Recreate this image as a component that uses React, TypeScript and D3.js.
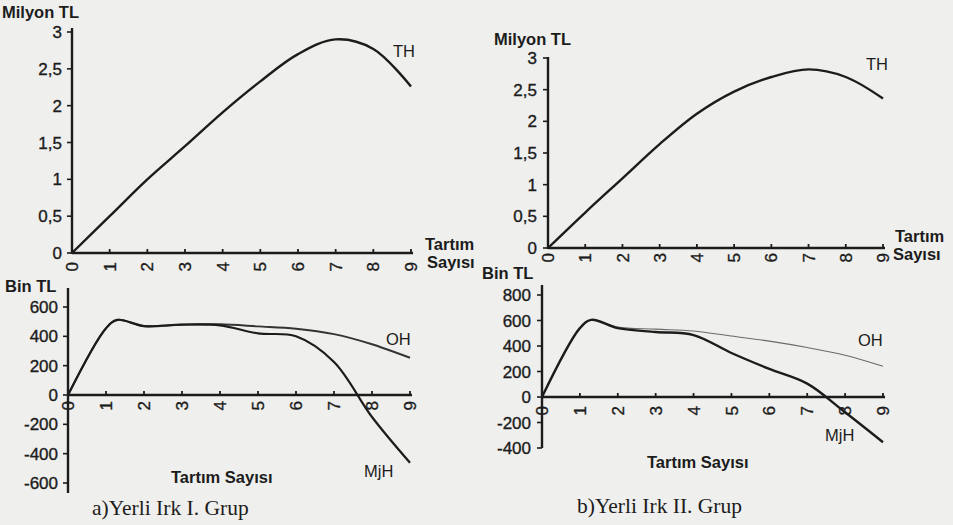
import React from 'react';
import * as d3 from 'd3';

const width = 953;
const height = 525;

// x values (Tartım Sayısı)
const xTicks = [0, 1, 2, 3, 4, 5, 6, 7, 8, 9];
const xLower = [0, 1, 1.3, 2, 3, 4, 5, 6, 7, 8, 9];

// TH, Milyon TL
const thA = [0, 0.5, 1.0, 1.45, 1.91, 2.33, 2.7, 2.9, 2.77, 2.26];
const thB = [0, 0.56, 1.1, 1.64, 2.12, 2.47, 2.7, 2.82, 2.7, 2.36];

// OH / MjH, Bin TL
const ohA = [0, 455, 512, 470, 480, 482, 468, 452, 415, 346, 254];
const mjhA = [0, 455, 512, 470, 480, 475, 420, 400, 225, -150, -462];
const ohB = [0, 540, 605, 548, 532, 518, 478, 438, 388, 328, 241];
const mjhB = [0, 540, 605, 540, 510, 486, 345, 220, 105, -120, -355];

const topTicks = [0, 0.5, 1, 1.5, 2, 2.5, 3];
const lowTicksA = [-600, -400, -200, 0, 200, 400, 600];
const lowTicksB = [-400, -200, 0, 200, 400, 600, 800];

const ink = '#1c1c1c';
const sans = '"Liberation Sans", Arial, sans-serif';
const serif = '"Liberation Serif", "Times New Roman", serif';
const fmt = (v) => String(v).replace('.', ',');

const Panel = ({ xr, yd, yr, yTicks, axisTop, axisBottom, labelRight, xLabelY, series }) => {
  const x = d3.scaleLinear().domain([0, 9]).range(xr);
  const y = d3.scaleLinear().domain(yd).range(yr);
  const y0 = y(0);
  const tickText = { fontSize: 17, fontFamily: sans, fill: ink, stroke: ink, strokeWidth: 0.35 };
  return (
    <g>
      {/* y axis */}
      <line x1={xr[0]} x2={xr[0]} y1={axisTop} y2={axisBottom} stroke={ink} strokeWidth={2.4} />
      {yTicks.map((t) => (
        <g key={t}>
          <line x1={xr[0] - 5} x2={xr[0]} y1={y(t)} y2={y(t)} stroke={ink} strokeWidth={1.6} />
          <text x={labelRight} y={y(t)} dy="0.36em" textAnchor="end" {...tickText}>
            {fmt(t)}
          </text>
        </g>
      ))}
      {/* x axis */}
      <line x1={xr[0]} x2={xr[1] + 2} y1={y0} y2={y0} stroke={ink} strokeWidth={2.4} />
      {xTicks.map((t) => (
        <g key={t}>
          <line x1={x(t)} x2={x(t)} y1={y0 - 4} y2={y0 + 1} stroke={ink} strokeWidth={1.8} />
          <text
            transform={`translate(${x(t)},${xLabelY}) rotate(-90)`}
            dy="0.36em"
            textAnchor="end"
            {...tickText}
          >
            {t}
          </text>
        </g>
      ))}
      {series.map((s, i) => {
        const line = d3
          .line()
          .x((d) => x(d[0]))
          .y((d) => y(d[1]))
          .curve(d3.curveCatmullRom.alpha(0.5));
        return (
          <path
            key={i}
            d={line(s.xs.map((v, j) => [v, s.ys[j]]))}
            fill="none"
            stroke={s.color || ink}
            strokeWidth={s.w || 2}
            strokeLinejoin="round"
          />
        );
      })}
    </g>
  );
};

export default function App() {
  const bold = { fontFamily: sans, fontWeight: 700, fontSize: 16.5, fill: ink };
  const reg = { fontFamily: sans, fontSize: 16.5, fill: ink };
  const cap = { fontFamily: serif, fontSize: 21.5, fill: ink };
  return (
    <svg
      width={width}
      height={height}
      style={{ position: 'absolute', left: 0, top: 0, display: 'block' }}
    >
      <rect width={width} height={height} fill="#efefed" />

      {/* a) top */}
      <Panel
        xr={[72, 411]}
        yd={[0, 3]}
        yr={[253, 32]}
        yTicks={topTicks}
        axisTop={28}
        axisBottom={254}
        labelRight={62}
        xLabelY={262}
        series={[{ xs: xTicks, ys: thA, w: 2.4 }]}
      />
      <text x={2} y={18} {...bold}>Milyon TL</text>
      <text x={393} y={57} {...reg}>TH</text>
      <text x={425} y={250} {...bold}>Tartım</text>
      <text x={427} y={268} {...bold}>Sayısı</text>

      {/* b) top */}
      <Panel
        xr={[548, 883]}
        yd={[0, 3]}
        yr={[248, 58]}
        yTicks={topTicks}
        axisTop={57}
        axisBottom={249}
        labelRight={537}
        xLabelY={253}
        series={[{ xs: xTicks, ys: thB, w: 2.4 }]}
      />
      <text x={494} y={45} {...bold}>Milyon TL</text>
      <text x={866} y={70} {...reg}>TH</text>
      <text x={895} y={242} {...bold}>Tartım</text>
      <text x={893} y={260} {...bold}>Sayısı</text>

      {/* a) bottom */}
      <Panel
        xr={[68, 410]}
        yd={[-600, 600]}
        yr={[483, 307]}
        yTicks={lowTicksA}
        axisTop={288}
        axisBottom={493}
        labelRight={58}
        xLabelY={401}
        series={[
          { xs: xLower, ys: ohA, w: 1.9, color: '#333' },
          { xs: xLower, ys: mjhA, w: 2.2 },
        ]}
      />
      <text x={5} y={292} {...bold}>Bin TL</text>
      <text x={386} y={345} {...reg}>OH</text>
      <text x={364} y={477} {...reg}>MjH</text>
      <text x={171} y={483} {...bold}>Tartım Sayısı</text>
      <text x={92} y={515} {...cap}>a)Yerli Irk I. Grup</text>

      {/* b) bottom */}
      <Panel
        xr={[542, 883]}
        yd={[-400, 800]}
        yr={[448, 295]}
        yTicks={lowTicksB}
        axisTop={285}
        axisBottom={448}
        labelRight={531}
        xLabelY={406}
        series={[
          { xs: xLower, ys: ohB, w: 1.1, color: '#6a6a6a' },
          { xs: xLower, ys: mjhB, w: 2.4 },
        ]}
      />
      <text x={482} y={279} {...bold}>Bin TL</text>
      <text x={858} y={346} {...reg}>OH</text>
      <text x={825} y={441} {...reg}>MjH</text>
      <text x={647} y={468} {...bold}>Tartım Sayısı</text>
      <text x={577} y={513} {...cap}>b)Yerli Irk II. Grup</text>
    </svg>
  );
}
